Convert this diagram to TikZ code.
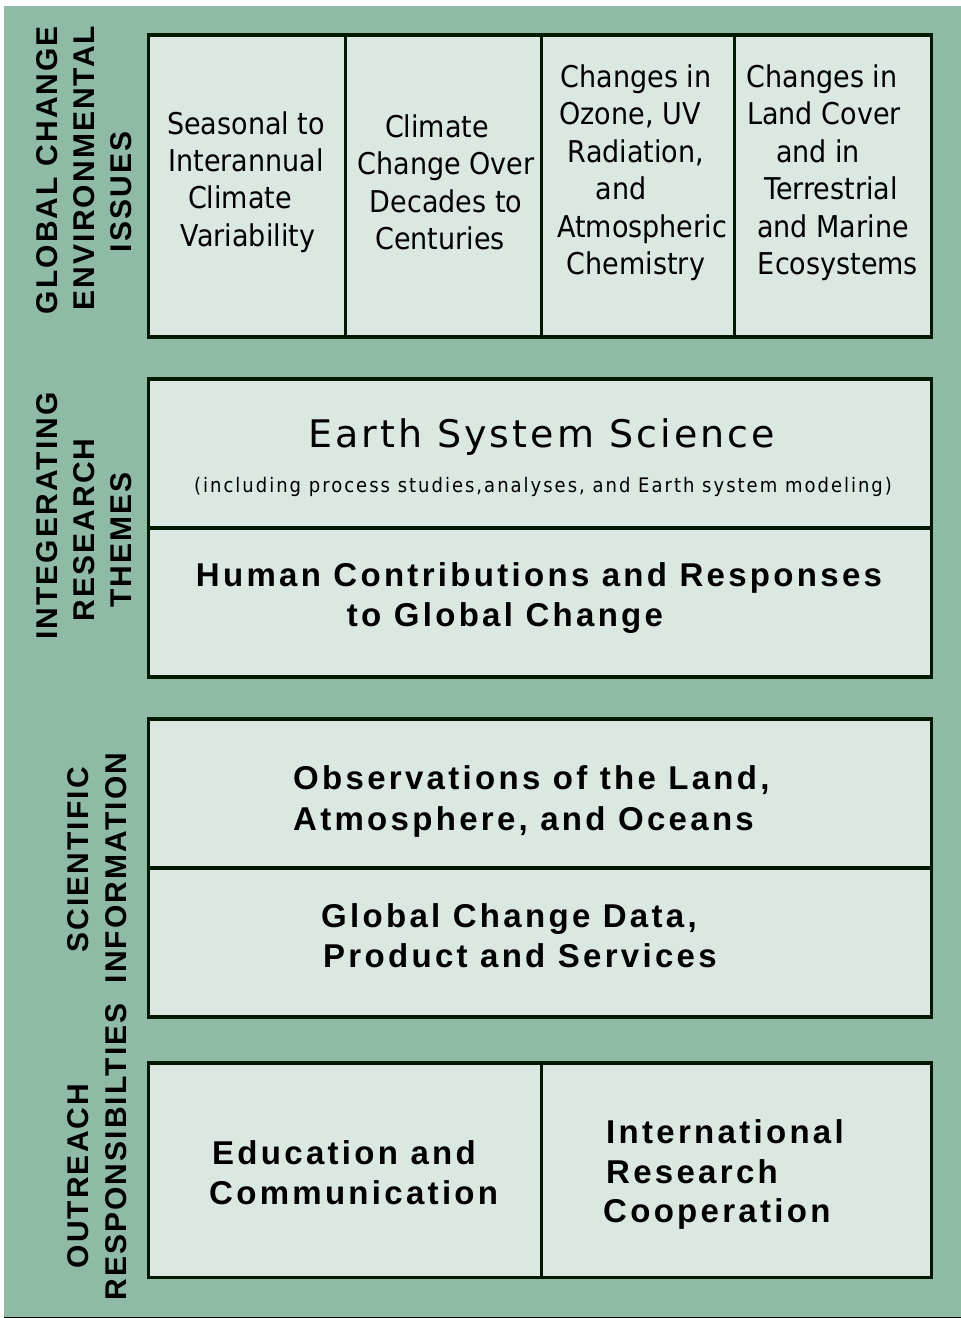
\documentclass[tikz,border=0pt]{standalone}
\usepackage{fontspec}
\setmainfont{DejaVu Sans}
\newfontfamily\cellfont{DejaVu Sans}[FakeStretch=0.9]
\newfontfamily\titlefont{DejaVu Sans}[LetterSpace=8]
\newfontfamily\notefont{DejaVu Sans}[LetterSpace=10,FakeStretch=0.9]
\newfontfamily\heavyfont{Liberation Sans Bold}[LetterSpace=10]
\newfontfamily\sidefont{Liberation Sans Bold}[LetterSpace=7]

\definecolor{sage}{RGB}{142,186,166}
\definecolor{cell}{RGB}{218,232,225}
\definecolor{edge}{RGB}{0,24,0}

\tikzset{
  panel/.style={draw=edge, line width=3.3pt, fill=cell},
  divider/.style={draw=edge, line width=3.3pt},
  celltext/.style={font=\cellfont\fontsize{30}{37}\selectfont, inner sep=0pt, anchor=base},
  boldtext/.style={font=\heavyfont\fontsize{33}{40}\selectfont, inner sep=0pt},
  sidelabel/.style={font=\sidefont\fontsize{30}{30}\selectfont, inner sep=0pt, anchor=base, rotate=90},
}

\begin{document}
\begin{tikzpicture}[x=1pt, y=-1pt]
  \useasboundingbox (0,0) rectangle (961,1318);
  \fill[white] (0,0) rectangle (961,1318);
  \fill[sage] (4,6) rectangle (961,1316.5);
  \fill[black] (4,1316.5) rectangle (961,1318);

  % panels
  \path[panel] (148.5,35) rectangle (931.5,337);
  \path[panel] (148.5,379) rectangle (931.5,677);
  \path[panel] (148.5,719) rectangle (931.5,1017);
  \path[panel] (148.5,1063) rectangle (931.5,1277.5);

  % dividers
  \foreach \x in {345.5,541.5,734.5} \path[divider] (\x,35) -- (\x,337);
  \path[divider] (148.5,528) -- (931.5,528);
  \path[divider] (148.5,868) -- (931.5,868);
  \path[divider] (541.5,1063) -- (541.5,1277.5);

  % environmental issues
  \foreach \x/\y/\t [count=\i] in {246/134/Seasonal to, 246/171/Interannual, 240/208/Climate, 248/246/Variability}
    \node[celltext] (seas\i) at (\x,\y) {\t};
  \foreach \x/\y/\t [count=\i] in {437/137/Climate, 446/174/Change Over, 446/212/Decades to, 440/249/Centuries}
    \node[celltext] (clim\i) at (\x,\y) {\t};
  \foreach \x/\y/\t [count=\i] in {636/87/Changes in, 630/124/{Ozone, UV}, 636/162/{Radiation,}, 621/199/and, 642/237/Atmospheric, 636/274/Chemistry}
    \node[celltext] (ozon\i) at (\x,\y) {\t};
  \foreach \x/\y/\t [count=\i] in {822/87/Changes in, 824/124/Land Cover, 818/162/and in, 831/199/Terrestrial, 833/237/and Marine, 838/274/Ecosystems}
    \node[celltext] (land\i) at (\x,\y) {\t};

  % research themes
  \node[font=\titlefont\fontsize{38}{38}\selectfont, inner sep=0pt, anchor=base] (ess) at (541.5,447) {Earth System Science};
  \node[font=\notefont\fontsize{20}{20}\selectfont, inner sep=0pt, anchor=base] (essnote) at (543,492) {(including process studies,analyses, and Earth system modeling)};
  \node[boldtext, anchor=base] (human1) at (539,586) {Human Contributions and Responses};
  \node[boldtext, anchor=base] (human2) at (505,626) {to Global Change};

  % scientific information
  \node[boldtext, anchor=base west] (obs1) at (293,789) {Observations of the Land,};
  \node[boldtext, anchor=base west] (obs2) at (293,830) {Atmosphere, and Oceans};
  \node[boldtext, anchor=base west] (data1) at (321,927) {Global Change Data,};
  \node[boldtext, anchor=base west] (data2) at (323,967) {Product and Services};

  % outreach
  \node[boldtext, anchor=base west] (edu1) at (212,1164) {Education and};
  \node[boldtext, anchor=base west] (edu2) at (209,1204) {Communication};
  \node[boldtext, anchor=base west] (intl1) at (606,1143) {International};
  \node[boldtext, anchor=base west] (intl2) at (606,1183) {Research};
  \node[boldtext, anchor=base west] (intl3) at (603,1222) {Cooperation};

  % side headings
  \node[sidelabel] (gc1) at (57,170) {GLOBAL CHANGE};
  \node[sidelabel] (gc2) at (94,168) {ENVIRONMENTAL};
  \node[sidelabel] (gc3) at (131,192) {ISSUES};
  \node[sidelabel] (ir1) at (57,516) {INTEGERATING};
  \node[sidelabel] (ir2) at (94,530) {RESEARCH};
  \node[sidelabel] (ir3) at (131,540) {THEMES};
  \node[sidelabel] (si1) at (88,860) {SCIENTIFIC};
  \node[sidelabel] (si2) at (126,868) {INFORMATION};
  \node[sidelabel] (or1) at (88,1176) {OUTREACH};
  \node[sidelabel] (or2) at (126,1152) {RESPONSIBILTIES};
\end{tikzpicture}
\end{document}
